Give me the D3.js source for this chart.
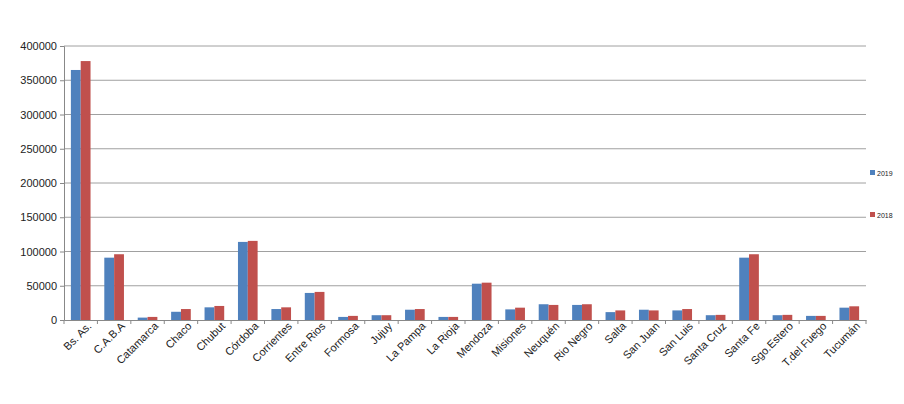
<!DOCTYPE html>
<html><head><meta charset="utf-8">
<script src="https://cdn.jsdelivr.net/npm/d3@7"></script>
<style>body{margin:0;background:#fff;font-family:"Liberation Sans",Arial,sans-serif}</style>
</head><body><svg id="c" width="904" height="404"></svg>
<script>
const provinces = ['Bs. As.','C.A.B.A','Catamarca','Chaco','Chubut','Córdoba','Corrientes','Entre Rios','Formosa','Jujuy','La Pampa','La Rioja','Mendoza','Misiones','Neuquén','Rio Negro','Salta','San Juan','San Luis','Santa Cruz','Santa Fe','Sgo.Estero','T.del Fuego','Tucumán']
const v2019 = [365000,91000,3500,12000,18500,114000,16000,39500,4500,7000,15000,4500,53000,15500,23000,22000,11500,15000,14000,7000,91000,7000,6000,18000]
const v2018 = [378000,96000,4500,16000,20500,115500,18500,41000,6000,7000,16000,4500,54500,18000,22000,23000,14000,14000,16000,7500,96000,7500,6000,20000]
const yTicks = [0,50000,100000,150000,200000,250000,300000,350000,400000]
const series = [{name:'2019', values:v2019, color:'#4f81bd'}, {name:'2018', values:v2018, color:'#c0504d'}]

const svg = d3.select('#c')
const mLeft = 64, mRight = 866, mTop = 46, mBottom = 320

const x = d3.scaleBand().domain(provinces).range([mLeft, mRight])
const xs = d3.scaleBand().domain(series.map(s => s.name)).range([0, x.bandwidth()]).paddingInner(0).paddingOuter(0.7)
const y = d3.scaleLinear().domain([0, 400000]).range([mBottom, mTop])

// gridlines
svg.append('g').selectAll('line').data(yTicks.slice(1)).enter().append('line')
    .attr('x1', mLeft).attr('x2', mRight)
    .attr('y1', d => y(d)).attr('y2', d => y(d))
    .attr('stroke', '#a0a0a0').attr('stroke-width', 1)

// bars
series.forEach(s => {
    svg.append('g').selectAll('rect').data(s.values).enter().append('rect')
        .attr('x', (d, i) => x(provinces[i]) + xs(s.name))
        .attr('y', d => y(d))
        .attr('width', xs.bandwidth())
        .attr('height', d => mBottom - y(d))
        .attr('fill', s.color)
})

// y axis
const ya = svg.append('g').attr('transform', `translate(${mLeft},0)`)
    .call(d3.axisLeft(y).tickValues(yTicks).tickSize(4).tickFormat(d3.format('d')))
ya.select('.domain').attr('stroke', '#888')
ya.selectAll('line').attr('stroke', '#888')
ya.selectAll('text').attr('font-size', 11).attr('fill', '#222').attr('font-family', 'Liberation Sans, Arial')

// x axis
const xa = svg.append('g').attr('transform', `translate(0,${mBottom})`)
    .call(d3.axisBottom(x).tickSize(0).tickSizeOuter(0))
xa.select('.domain').attr('stroke', '#888')
xa.selectAll('.tick text')
    .attr('font-size', 11).attr('fill', '#222').attr('font-family', 'Liberation Sans, Arial')
    .attr('text-anchor', 'end').attr('dx', '0.3em').attr('dy', '0.9em')
    .attr('transform', 'rotate(-45)')
// category separators
svg.append('g').selectAll('line').data(provinces.concat(['_end'])).enter().append('line')
    .attr('x1', (d, i) => mLeft + i * x.step()).attr('x2', (d, i) => mLeft + i * x.step())
    .attr('y1', mBottom).attr('y2', mBottom + 4).attr('stroke', '#888')

// legend
const lg = svg.append('g').selectAll('g').data(series).enter().append('g')
    .attr('transform', (d, i) => `translate(870,${173 + i * 42})`)
lg.append('rect').attr('x', 0).attr('y', -3).attr('width', 5).attr('height', 5).attr('fill', d => d.color)
lg.append('text').attr('x', 7).attr('y', 3).attr('font-size', 7).attr('fill', '#222').text(d => d.name)
</script></body></html>
